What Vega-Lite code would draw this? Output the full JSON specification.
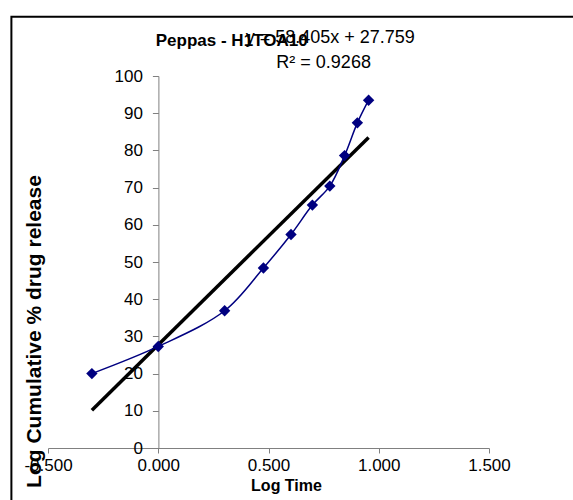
{
  "$schema": "https://vega.github.io/schema/vega-lite/v6.json",
  "width": 441,
  "height": 372,
  "autosize": "none",
  "padding": {"left": 48, "top": 76, "right": 84, "bottom": 52},
  "background": "white",
  "config": {
    "font": "Liberation Sans",
    "view": {"stroke": null},
    "axis": {"labelOverlap": false, "grid": false}
  },
  "datasets": {
    "obs": [
      {"logt": -0.301, "rel": 20.0},
      {"logt": 0.0, "rel": 27.3},
      {"logt": 0.301, "rel": 36.9},
      {"logt": 0.477, "rel": 48.4},
      {"logt": 0.602, "rel": 57.4},
      {"logt": 0.699, "rel": 65.3},
      {"logt": 0.778, "rel": 70.4},
      {"logt": 0.845, "rel": 78.6},
      {"logt": 0.903, "rel": 87.4},
      {"logt": 0.954, "rel": 93.5}
    ],
    "trend": [
      {"logt": -0.301, "rel": 10.18},
      {"logt": 0.954, "rel": 83.48}
    ],
    "frame": [
      {"x1": -0.666, "x2": 2.2, "y1": -20, "y2": 115.9}
    ],
    "title": [
      {"logt": 0.333, "rel": 109.3, "text": "Peppas - H1TOA10"}
    ],
    "eq": [
      {"logt": 0.78, "rel": 110.3, "text": "y = 58.405x + 27.759"},
      {"logt": 0.75, "rel": 103.6, "text": "R² = 0.9268"}
    ]
  },
  "encoding": {
    "x": {
      "field": "logt", "type": "quantitative",
      "scale": {"domain": [-0.5, 1.5]},
      "axis": {
        "title": "Log Time", "values": [-0.5, 0, 0.5, 1, 1.5],
        "labelExpr": "replace(format(datum.value, '.3f'), '\u2212', '-')",
        "labelFlush": false,
        "grid": false, "domainColor": "#808080", "tickColor": "#808080", "labelOverlap": false,
        "tickSize": 5, "labelFontSize": 17, "labelColor": "black", "labelPadding": 4,
        "titleFontSize": 16, "titleFontWeight": "bold", "titleColor": "black",
        "titleX": 238, "titleY": 37, "titleBaseline": "middle"
      }
    },
    "y": {
      "field": "rel", "type": "quantitative",
      "scale": {"domain": [0, 100]},
      "axis": {
        "title": "Log Cumulative % drug release", "values": [0,10,20,30,40,50,60,70,80,90,100],
        "offset": -110.4, "grid": false, "domainColor": "#808080", "tickColor": "#808080", "labelOverlap": false,
        "labelFlush": false,
        "tickSize": 6, "labelFontSize": 17, "labelColor": "black", "labelPadding": 10,
        "titleFontSize": 21, "titleFontWeight": "bold", "titleColor": "black",
        "titleX": -124, "titleY": 255, "titleBaseline": "middle"
      }
    }
  },
  "layer": [
    {
      "data": {"name": "trend"},
      "mark": {"type": "line", "color": "black", "strokeWidth": 3.5}
    },
    {
      "data": {"name": "obs"},
      "mark": {"type": "line", "color": "#000080", "strokeWidth": 1.5, "interpolate": "catmull-rom"}
    },
    {
      "data": {"name": "obs"},
      "mark": {"type": "point", "shape": "diamond", "filled": true, "color": "#000080", "size": 130, "opacity": 1}
    },
    {
      "data": {"name": "title"},
      "mark": {"type": "text", "fontSize": 17, "fontWeight": "bold", "color": "black", "clip": false},
      "encoding": {
        "text": {"field": "text"}
      }
    },
    {
      "data": {"name": "eq"},
      "mark": {"type": "text", "fontSize": 18, "color": "black", "clip": false},
      "encoding": {
        "text": {"field": "text"}
      }
    },
    {
      "data": {"name": "frame"},
      "mark": {"type": "rect", "fill": null, "stroke": "black", "strokeWidth": 2, "clip": false},
      "encoding": {
        "x": {"field": "x1", "type": "quantitative"},
        "x2": {"field": "x2"},
        "y": {"field": "y1", "type": "quantitative"},
        "y2": {"field": "y2"}
      }
    }
  ]
}
